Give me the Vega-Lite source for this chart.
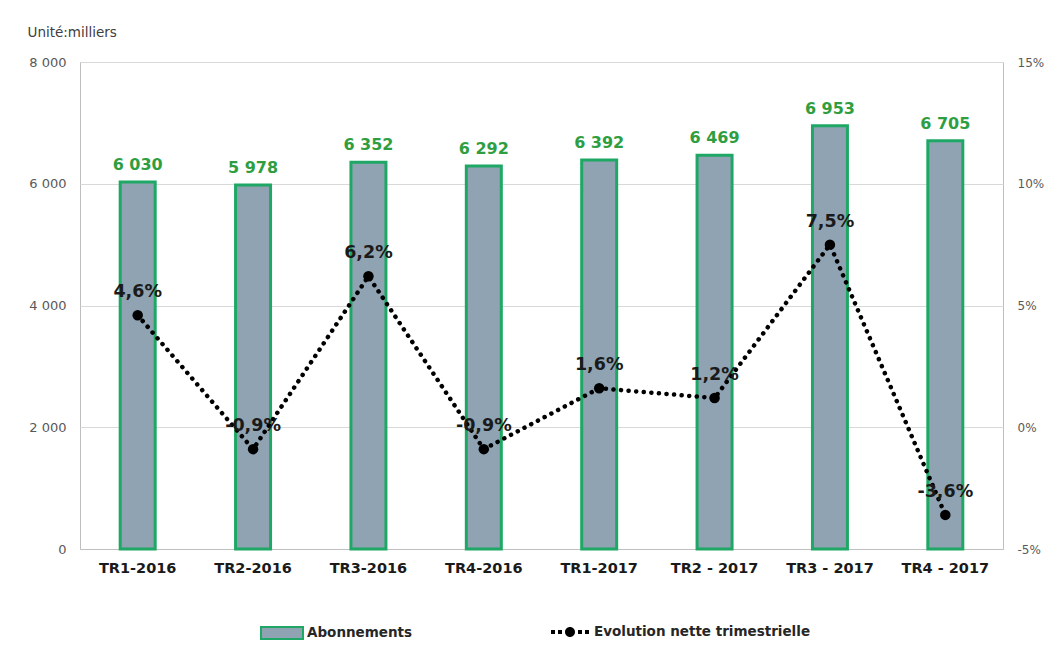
{
  "$schema": "https://vega.github.io/schema/vega-lite/v6.json",
  "width": 923,
  "height": 487,
  "autosize": {"type": "none"},
  "padding": {"left": 80, "top": 62, "right": 41, "bottom": 98},
  "background": "white",
  "config": {
    "locale": {"number": {"decimal": ",", "thousands": " ", "grouping": [3], "currency": ["", " €"], "minus": "-", "percent": "%"}},
    "font": "DejaVu Sans",
    "view": {"stroke": "#bfbfbf", "strokeWidth": 1},
    "axis": {"labelFont": "DejaVu Sans", "titleFont": "DejaVu Sans"},
    "legend": {"labelFont": "DejaVu Sans", "labelLimit": 400}
  },
  "data": {
    "values": [
      {"trimestre": "TR1-2016", "abonnements": 6030, "evolution": 0.046},
      {"trimestre": "TR2-2016", "abonnements": 5978, "evolution": -0.009},
      {"trimestre": "TR3-2016", "abonnements": 6352, "evolution": 0.062},
      {"trimestre": "TR4-2016", "abonnements": 6292, "evolution": -0.009},
      {"trimestre": "TR1-2017", "abonnements": 6392, "evolution": 0.016},
      {"trimestre": "TR2 - 2017", "abonnements": 6469, "evolution": 0.012},
      {"trimestre": "TR3 - 2017", "abonnements": 6953, "evolution": 0.075},
      {"trimestre": "TR4 - 2017", "abonnements": 6705, "evolution": -0.036}
    ]
  },
  "encoding": {
    "x": {
      "field": "trimestre", "type": "nominal", "sort": null,
      "scale": {"paddingInner": 0, "paddingOuter": 0},
      "axis": {"title": null, "labelAngle": 0, "labelFontWeight": "bold", "labelFontSize": 14.5, "labelColor": "#1a1a1a", "labelPadding": 12, "ticks": false, "domainColor": "#bfbfbf"}
    }
  },
  "layer": [
    {
      "layer": [
        {
          "mark": {"type": "bar", "width": 35, "stroke": "#1fa865", "strokeWidth": 3},
          "encoding": {
            "y": {
              "field": "abonnements", "type": "quantitative",
              "scale": {"domain": [0, 8000], "nice": false},
              "axis": {"values": [0, 2000, 4000, 6000, 8000], "format": ",d", "ticks": false, "domain": false, "labelPadding": 14, "labelFontSize": 13, "labelColor": "#595959", "gridColor": "#d9d9d9",
                "title": "Unité:milliers", "titleAngle": 0, "titleAlign": "left", "titleBaseline": "middle", "titleX": -53, "titleY": -30, "titleFontWeight": "normal", "titleFontSize": 13.5, "titleColor": "#404040"}
            },
            "fill": {"datum": "Abonnements", "type": "nominal", "scale": {"range": ["#8fa3b3"]},
              "legend": {"title": null, "orient": "none", "legendX": 180, "legendY": 549, "symbolType": "M-1,-0.28H1V0.28H-1Z", "symbolSize": 1764, "symbolStrokeColor": "#1fa865", "symbolStrokeWidth": 2, "labelFontWeight": "bold", "labelFontSize": 13.5, "labelColor": "#262626", "labelOffset": 3}}
          }
        },
        {
          "mark": {"type": "text", "baseline": "alphabetic", "dy": -12, "fontSize": 16, "fontWeight": "bold", "color": "#2f9e41"},
          "encoding": {
            "y": {"field": "abonnements", "type": "quantitative"},
            "text": {"field": "abonnements", "type": "quantitative", "format": ",d"}
          }
        }
      ]
    },
    {
      "layer": [
        {
          "mark": {"type": "line", "strokeDash": [0.1, 7.5], "strokeCap": "round", "strokeWidth": 4.5},
          "encoding": {
            "y": {
              "field": "evolution", "type": "quantitative",
              "scale": {"domain": [-0.05, 0.15], "nice": false},
              "axis": {"orient": "right", "title": null, "values": [-0.05, 0, 0.05, 0.1, 0.15], "format": ".0%", "grid": false, "ticks": false, "domain": false, "labelPadding": 14, "labelFontSize": 12, "labelColor": "#595959"}
            },
            "stroke": {"datum": "Evolution nette trimestrielle", "type": "nominal", "scale": {"range": ["#000000"]},
              "legend": {"title": null, "orient": "none", "legendX": 470, "legendY": 550, "symbolType": "M-0.95,-0.1H-0.75V0.1H-0.95Z M-0.6,-0.1H-0.4V0.1H-0.6Z M-0.25,0A0.25,0.25 0 1,0 0.25,0A0.25,0.25 0 1,0 -0.25,0Z M0.4,-0.1H0.6V0.1H0.4Z M0.75,-0.1H0.95V0.1H0.75Z", "symbolSize": 1600, "symbolFillColor": "#000000", "symbolStrokeWidth": 0, "labelFontWeight": "bold", "labelFontSize": 13.5, "labelColor": "#262626", "labelOffset": 4,
                "encode": {"symbols": {"update": {"fill": {"value": "#000000"}, "strokeWidth": {"value": 0}}}}}}
          }
        },
        {
          "mark": {"type": "point", "filled": true, "size": 110, "color": "#000000", "opacity": 1},
          "encoding": {
            "y": {"field": "evolution", "type": "quantitative"}
          }
        },
        {
          "mark": {"type": "text", "baseline": "alphabetic", "dy": -18, "fontSize": 17.5, "fontWeight": "bold", "color": "#1a1a1a"},
          "encoding": {
            "y": {"field": "evolution", "type": "quantitative"},
            "text": {"field": "evolution", "type": "quantitative", "format": ".1%"}
          }
        }
      ]
    }
  ],
  "resolve": {"scale": {"y": "independent"}}
}
